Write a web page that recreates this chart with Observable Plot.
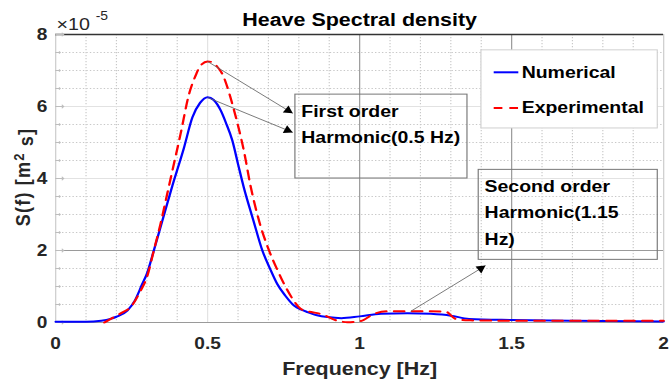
<!DOCTYPE html>
<html>
<head>
<meta charset="utf-8">
<script src="https://cdn.jsdelivr.net/npm/d3@7"></script>
<script src="https://cdn.jsdelivr.net/npm/@observablehq/plot@0.6"></script>
<style>
  html, body { margin: 0; padding: 0; background: #fff; }
  #chart svg { display: block; }
</style>
</head>
<body>
<div id="chart"></div>
<script>
// ---- data (values in units of 1e-5 m^2 s) ----
const title = "Heave Spectral density";
const xLabel = "Frequency [Hz]";
const seriesNames = ["Numerical", "Experimental"];

const freqNum = [0, 0.05, 0.1, 0.15, 0.18, 0.2, 0.236, 0.26, 0.285, 0.3, 0.323, 0.35, 0.384, 0.422, 0.45, 0.475, 0.5, 0.52, 0.543, 0.56, 0.581, 0.6, 0.619, 0.65, 0.68, 0.705, 0.729, 0.755, 0.784, 0.81, 0.828, 0.86, 0.894, 0.94, 1.0, 1.07, 1.157, 1.234, 1.3, 1.36, 1.5, 1.7, 2.0];
const sNum    = [0.02, 0.02, 0.02, 0.05, 0.10, 0.16, 0.33, 0.6, 1.07, 1.35, 2.0, 2.8, 3.8, 4.85, 5.7, 6.1, 6.26, 6.18, 5.89, 5.55, 5.06, 4.4, 3.75, 2.85, 2.0, 1.5, 1.07, 0.75, 0.47, 0.35, 0.29, 0.2, 0.15, 0.12, 0.17, 0.24, 0.26, 0.24, 0.19, 0.10, 0.07, 0.05, 0.03];

const freqExp = [0.16, 0.192, 0.22, 0.247, 0.28, 0.3, 0.323, 0.345, 0.373, 0.411, 0.439, 0.46, 0.477, 0.5, 0.515, 0.53, 0.548, 0.57, 0.587, 0.605, 0.619, 0.641, 0.67, 0.702, 0.73, 0.757, 0.78, 0.806, 0.835, 0.861, 0.885, 0.905, 0.93, 0.96, 1.003, 1.047, 1.091, 1.157, 1.22, 1.283, 1.316, 1.36, 1.5, 1.7, 2.0];
const sExp    = [0.0, 0.15, 0.28, 0.43, 0.89, 1.25, 2.0, 2.74, 3.8, 5.24, 6.35, 6.85, 7.14, 7.25, 7.23, 7.12, 6.91, 6.4, 5.89, 5.3, 4.78, 3.8, 2.8, 2.0, 1.45, 0.98, 0.65, 0.38, 0.3, 0.26, 0.2, 0.12, 0.04, 0.01, 0.04, 0.24, 0.31, 0.31, 0.31, 0.3, 0.10, 0.06, 0.05, 0.05, 0.05];

const xTicks = [0, 0.5, 1, 1.5, 2];
const yTicks = [0, 2, 4, 6, 8];
const xMinor = [0.1, 0.2, 0.3, 0.4, 0.6, 0.7, 0.8, 0.9, 1.1, 1.2, 1.3, 1.4, 1.6, 1.7, 1.8, 1.9];
const yMinor = [0.5, 1, 1.5, 2.5, 3, 3.5, 4.5, 5, 5.5, 6.5, 7, 7.5];
const xDarkGrid = [1, 1.5];
const yDarkGrid = [2];

// annotation boxes, texts and arrows (data coordinates)
const boxes = [
  {x1: 0.789, x2: 1.355, y1: 4.0, y2: 6.33},
  {x1: 1.392, x2: 1.981, y1: 1.74, y2: 4.24}
];
const annoText = [
  {x: 0.808, y: 5.87, text: "First order"},
  {x: 0.808, y: 5.13, text: "Harmonic(0.5 Hz)"},
  {x: 1.411, y: 3.77, text: "Second order"},
  {x: 1.411, y: 3.04, text: "Harmonic(1.15"},
  {x: 1.411, y: 2.30, text: "Hz)"}
];
const arrows = [
  {x1: 0.50, y1: 7.25, x2: 0.78, y2: 5.81},
  {x1: 0.50, y1: 6.25, x2: 0.78, y2: 5.28},
  {x1: 1.168, y1: 0.31, x2: 1.414, y2: 1.58}
];
const legendBox = [{x1: 1.401, x2: 1.981, y1: 5.39, y2: 7.56}];
const legendRows = [
  {name: "Numerical", y: 6.95, xa: 1.441, xb: 1.522, xt: 1.533},
  {name: "Experimental", y: 5.96, xa: 1.441, xb: 1.522, xt: 1.533}
];

const numData = freqNum.map((f, i) => ({f, s: sNum[i]}));
const expData = freqExp.map((f, i) => ({f, s: sExp[i]}));

// ---- layout: drawn in a narrower virtual space, then stretched horizontally ----
const REAL_W = 670, REAL_H = 383;
const W = 578, H = 383;
const M = {left: 47.5, right: 6, top: 34, bottom: 61};
const FONT = "'Liberation Sans', Arial, Helvetica, sans-serif";
const colors = {Numerical: "#0000ff", Experimental: "#ff0000"};
const DASH = "9,6.5";
const LEGEND_DASH = "7.5,6";

// scales (same as the plot's) used only to orient the arrow heads
const xs = Plot.scale({x: {domain: [0, 2], range: [M.left, W - M.right]}});
const ys = Plot.scale({y: {domain: [0, 8], range: [H - M.bottom, M.top]}});
const headR = 3.2;
const headMarks = arrows.map(a => {
  const vx = xs.apply(a.x2) - xs.apply(a.x1);
  const vy = ys.apply(a.y2) - ys.apply(a.y1);
  const n = Math.hypot(vx, vy);
  const ang = Math.atan2(vx, -vy) * 180 / Math.PI;
  const back = 1.555 * headR;
  return Plot.dot([a], {x: "x2", y: "y2", symbol: "triangle", r: headR, rotate: ang,
    fill: "#000", stroke: "none", dx: -vx / n * back, dy: -vy / n * back});
});

const txt = {lineAnchor: "middle", fontWeight: "bold"};

const chart = Plot.plot({
  width: W, height: H,
  marginLeft: M.left, marginRight: M.right, marginTop: M.top, marginBottom: M.bottom,
  x: {domain: [0, 2]},
  y: {domain: [0, 8]},
  style: {fontFamily: FONT, fontSize: "16.5px", fontWeight: "bold", color: "#262626", background: "#fff"},
  marks: [
    // minor grid (dotted)
    Plot.ruleX(xMinor, {stroke: "#c8c8c8", strokeDasharray: "1.2,1.8", strokeWidth: 1}),
    Plot.ruleY(yMinor, {stroke: "#c8c8c8", strokeDasharray: "1.2,1.8", strokeWidth: 1}),
    // major grid
    Plot.ruleX(xTicks, {stroke: "#e2e2e2", strokeWidth: 1}),
    Plot.ruleY(yTicks, {stroke: "#e2e2e2", strokeWidth: 1}),
    Plot.ruleX(xDarkGrid, {stroke: "#9a9a9a", strokeWidth: 1}),
    Plot.ruleY(yDarkGrid, {stroke: "#9a9a9a", strokeWidth: 1}),
    // axes lines
    Plot.ruleY([0], {stroke: "#9a9a9a", strokeWidth: 1.2}),
    Plot.ruleX([0], {stroke: "#cfcfcf", strokeWidth: 1}),
    Plot.ruleX([2], {stroke: "#cfcfcf", strokeWidth: 1}),
    Plot.ruleY([8], {stroke: "#333", strokeWidth: 1.3}),
    // inward ticks
    Plot.vector(yTicks, {x: 0, y: d => d, length: 7, rotate: 90, anchor: "start", stroke: "#bdbdbd", strokeWidth: 1}),
    Plot.vector(yMinor, {x: 0, y: d => d, length: 4, rotate: 90, anchor: "start", stroke: "#bdbdbd", strokeWidth: 1}),
    // annotation boxes
    Plot.rect(boxes, {x1: "x1", x2: "x2", y1: "y1", y2: "y2", fill: "none", stroke: "#777", strokeWidth: 1}),
    // curves
    Plot.line(numData, {x: "f", y: "s", stroke: colors.Numerical, strokeWidth: 2, curve: "monotone-x"}),
    Plot.line(expData, {x: "f", y: "s", stroke: colors.Experimental, strokeWidth: 2, strokeDasharray: DASH, curve: "monotone-x"}),
    // arrows
    Plot.link(arrows, {x1: "x1", y1: "y1", x2: "x2", y2: "y2", stroke: "#666", strokeWidth: 0.8}),
    ...headMarks,
    // annotation texts
    Plot.text(annoText, {x: "x", y: "y", text: "text", textAnchor: "start", fontSize: 16.8, fill: "#000", ...txt}),
    // legend
    Plot.rect(legendBox, {x1: "x1", x2: "x2", y1: "y1", y2: "y2", fill: "#fff", stroke: "#d0d0d0", strokeWidth: 1}),
    Plot.link(legendRows.filter(d => d.name === "Numerical"), {x1: "xa", x2: "xb", y1: "y", y2: "y",
      stroke: colors.Numerical, strokeWidth: 2}),
    Plot.link(legendRows.filter(d => d.name === "Experimental"), {x1: "xa", x2: "xb", y1: "y", y2: "y",
      stroke: colors.Experimental, strokeWidth: 2, strokeDasharray: LEGEND_DASH}),
    Plot.text(legendRows, {x: "xt", y: "y", text: "name", textAnchor: "start", fontSize: 16.8, fill: "#000", ...txt}),
    // axes
    Plot.axisX({ticks: xTicks, tickSize: 0, tickPadding: 14.5, label: null, fill: "#262626", tickFormat: d => String(d)}),
    Plot.axisY({ticks: yTicks, tickSize: 0, tickPadding: 7.2, label: null, fill: "#262626", tickFormat: d => String(d)}),
    // title & labels
    Plot.text([title], {frameAnchor: "top", dy: -14, fontSize: 18.5, fill: "#000", ...txt}),
    Plot.text([xLabel], {frameAnchor: "bottom", dy: 47, fontSize: 18.5, fill: "#262626", ...txt}),
    Plot.text(["S(f) [m2 s]"], {frameAnchor: "left", dx: -27.5, dy: -1.5, rotate: -90, textAnchor: "middle", fontSize: 18, fill: "#262626", className: "ylab", ...txt}),
    Plot.text(["\u00d710"], {frameAnchor: "top-left", dx: 0.8, dy: -9.8, textAnchor: "start", fontSize: 17, fill: "#262626", lineAnchor: "middle", fontWeight: "normal"}),
    Plot.text(["-5"], {frameAnchor: "top-left", dx: 34.5, dy: -18.2, textAnchor: "start", fontSize: 12, fill: "#262626", lineAnchor: "middle", fontWeight: "normal"})
  ]
});

// stretch horizontally to the real page width
chart.setAttribute("width", REAL_W);
chart.setAttribute("height", REAL_H);
chart.setAttribute("viewBox", `0 0 ${W} ${H}`);
chart.setAttribute("preserveAspectRatio", "none");
chart.style.width = REAL_W + "px";
chart.style.height = REAL_H + "px";
chart.style.maxWidth = "none";

// superscript for the y label
d3.select(chart).selectAll(".ylab text").each(function () {
  const t = d3.select(this);
  t.text(null);
  t.style("letter-spacing", "1.2px");
  t.append("tspan").text("S(f) [m");
  t.append("tspan").attr("dy", "-0.45em").attr("font-size", "13px").text("2");
  t.append("tspan").attr("dy", "0.45em").text(" s]");
});

document.getElementById("chart").appendChild(chart);
</script>
</body>
</html>
